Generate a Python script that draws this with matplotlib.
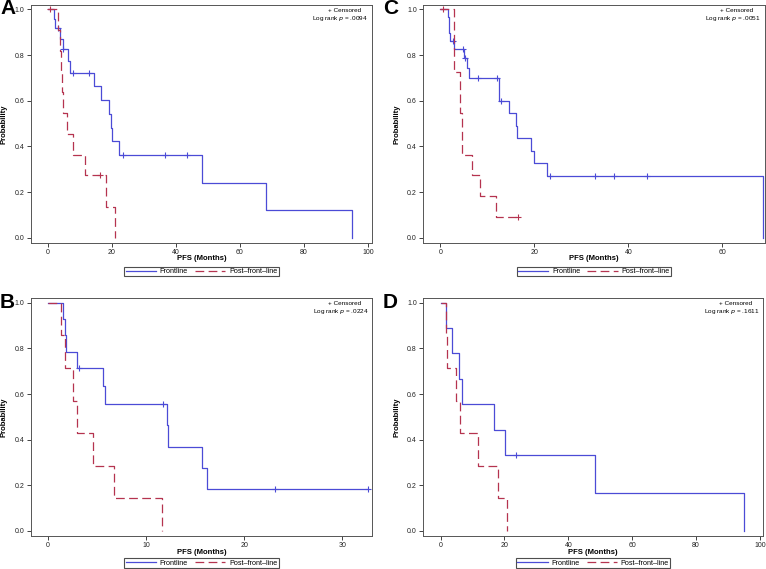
import numpy as np
import matplotlib
matplotlib.use("Agg")
import matplotlib.pyplot as plt
from matplotlib.lines import Line2D

plt.rcParams["font.family"] = ["Liberation Sans", "DejaVu Sans"]

FRONT_COLOR = "#4b4bd6"
POST_COLOR = "#b5334f"

# ---- Panel A ----
a_front_t = [1.9, 2.2, 3.75, 4.6, 6.25, 6.8, 14.4, 16.5, 19.2, 19.7, 20.0, 22.3, 48.2, 68.1, 95.0]
a_front_s = [0.958, 0.917, 0.870, 0.825, 0.774, 0.723, 0.663, 0.603, 0.542, 0.482, 0.422, 0.361, 0.241, 0.120, 0.0]
a_front_c = [3.1, 4.8, 7.9, 12.7, 23.5, 36.7, 43.5]
a_post_t = [3.1, 3.7, 4.0, 4.3, 4.6, 6.0, 7.9, 11.5, 18.1, 20.9]
a_post_s = [0.909, 0.818, 0.727, 0.636, 0.545, 0.455, 0.364, 0.273, 0.136, 0.0]
a_post_c = [0.6, 16.3]

# ---- Panel B ----
b_front_t = [1.6, 1.8, 1.9, 3.0, 5.6, 5.85, 12.1, 12.3, 15.7, 16.2]
b_front_s = [0.929, 0.857, 0.786, 0.714, 0.635, 0.556, 0.463, 0.370, 0.278, 0.185]
b_front_c = [3.15, 11.7, 23.1, 32.6]
b_post_t = [1.4, 1.8, 2.6, 3.0, 4.6, 6.75, 11.6]
b_post_s = [0.857, 0.714, 0.571, 0.429, 0.286, 0.143, 0.0]
b_post_c = []

# ---- Panel C ----
c_front_t = [1.7, 1.9, 2.1, 3.0, 5.0, 5.6, 6.1, 12.5, 14.6, 16.0, 16.3, 19.2, 19.9, 22.8, 68.7]
c_front_s = [0.966, 0.897, 0.862, 0.828, 0.789, 0.745, 0.699, 0.600, 0.544, 0.489, 0.435, 0.380, 0.326, 0.272, 0.0]
c_front_c = [2.7, 4.85, 5.2, 8.1, 12.1, 13.0, 23.3, 33.0, 36.9, 43.9]
c_post_t = [2.85, 2.9, 3.0, 4.1, 4.2, 4.6, 4.7, 6.8, 8.4, 11.8]
c_post_s = [0.909, 0.818, 0.727, 0.636, 0.545, 0.455, 0.364, 0.273, 0.182, 0.091]
c_post_c = [0.6, 16.5]

# ---- Panel D ----
d_front_t = [1.8, 3.65, 5.9, 6.7, 16.7, 20.3, 48.3, 95.0]
d_front_s = [0.889, 0.778, 0.667, 0.556, 0.444, 0.333, 0.167, 0.0]
d_front_c = [23.5]
d_post_t = [1.6, 1.9, 4.7, 6.1, 11.8, 18.0, 20.9]
d_post_s = [0.857, 0.714, 0.571, 0.429, 0.286, 0.143, 0.0]
d_post_c = []

W, H = 766, 569


def px_axes(fig, x0, y0, x1, y1):
    return fig.add_axes([x0 / W, 1 - y1 / H, (x1 - x0) / W, (y1 - y0) / H])


def km_line(ax, t, s, cens, color, ls):
    x = np.array([0.0] + list(t))
    y = np.array([1.0] + list(s))
    if len(cens) and max(cens) > x[-1]:
        x = np.append(x, max(cens))
        y = np.append(y, y[-1])
    ax.plot(x, y, drawstyle="steps-post", color=color, lw=0.9,
            linestyle=ls)
    if len(cens):
        idx = np.searchsorted(x, cens, side="right") - 1
        ax.plot(cens, y[idx], linestyle="none", marker="+", color=color,
                markersize=5, mew=0.8)


def panel(fig, box, letter, letter_xy, data, xlim, xticks, ylim, pval,
          xlabel_y, legend_y):
    x0, y0, x1, y1 = box
    ax = px_axes(fig, x0, y0, x1, y1)
    ft, fs, fc, pt, ps, pc = data
    km_line(ax, ft, fs, fc, FRONT_COLOR, "-")
    km_line(ax, pt, ps, pc, POST_COLOR, (0, (7, 3.5)))
    ax.set_xlim(*xlim)
    ax.set_ylim(*ylim)
    ax.set_xticks(xticks)
    ax.set_yticks([0, 0.2, 0.4, 0.6, 0.8, 1.0])
    ax.set_yticklabels(["0.0", "0.2", "0.4", "0.6", "0.8", "1.0"])
    ax.tick_params(labelsize=5, length=3, width=0.6, pad=1.5, colors="#222222")
    for sp in ax.spines.values():
        sp.set_linewidth(0.7)
        sp.set_color("#555555")
    ax.set_xlabel("PFS (Months)", fontsize=5.5, fontweight="bold")
    ax.xaxis.label.set_va("center")
    ax.xaxis.set_label_coords(0.5, -(xlabel_y - y1) / (y1 - y0))
    ax.set_ylabel("Probability", fontsize=5.5, fontweight="bold")
    ax.yaxis.set_label_coords(-23 / (x1 - x0), 0.5)
    ax.text(0.919, 0.975, "+ Censored", transform=ax.transAxes,
            ha="center", va="center", fontsize=4.6)
    ax.text(0.989, 0.945, "Log rank $\\it{p}$ = " + pval, transform=ax.transAxes,
            ha="right", va="center", fontsize=4.6)
    handles = [Line2D([], [], color=FRONT_COLOR, lw=0.9),
               Line2D([], [], color=POST_COLOR, lw=0.9, linestyle=(0, (7, 3.5)))]
    leg = ax.legend(handles, ["Frontline", "Post\u2013front\u2013line"],
                    loc="center", bbox_to_anchor=((x0 + x1) / 2 / W, 1 - legend_y / H),
                    bbox_transform=fig.transFigure, ncol=2, fontsize=5.2,
                    frameon=True, fancybox=False, handlelength=4.2,
                    handletextpad=0.5, columnspacing=1.0, borderpad=0.2,
                    borderaxespad=0)
    leg.get_frame().set_edgecolor("#222222")
    leg.get_frame().set_linewidth(0.8)
    fig.text(letter_xy[0] / W, 1 - letter_xy[1] / H, letter, fontsize=15,
             fontweight="bold", ha="left", va="center")
    return ax


fig = plt.figure(figsize=(W / 100, H / 100), dpi=100)

top_ylim = (-0.023, 1.019)
bot_ylim = (-0.022, 1.021)

panel(fig, (30.7, 5, 372, 243), "A", (0, 9),
      (a_front_t, a_front_s, a_front_c, a_post_t, a_post_s, a_post_c),
      (-5.4, 101.3), [0, 20, 40, 60, 80, 100], top_ylim, ".0094", 259, 271.5)
panel(fig, (423, 5, 764.5, 243), "C", (383, 9),
      (c_front_t, c_front_s, c_front_c, c_post_t, c_post_s, c_post_c),
      (-3.7, 69.0), [0, 20, 40, 60], top_ylim, ".0051", 259, 271.5)
panel(fig, (30.5, 298, 372.3, 536), "B", (0, 303),
      (b_front_t, b_front_s, b_front_c, b_post_t, b_post_s, b_post_c),
      (-1.75, 33.05), [0, 10, 20, 30], bot_ylim, ".0224", 552, 563)
panel(fig, (423, 298, 763, 536), "D", (383, 303),
      (d_front_t, d_front_s, d_front_c, d_post_t, d_post_s, d_post_c),
      (-5.5, 101.0), [0, 20, 40, 60, 80, 100], bot_ylim, ".1611", 552, 563)

fig.savefig("out.png", dpi=100)
